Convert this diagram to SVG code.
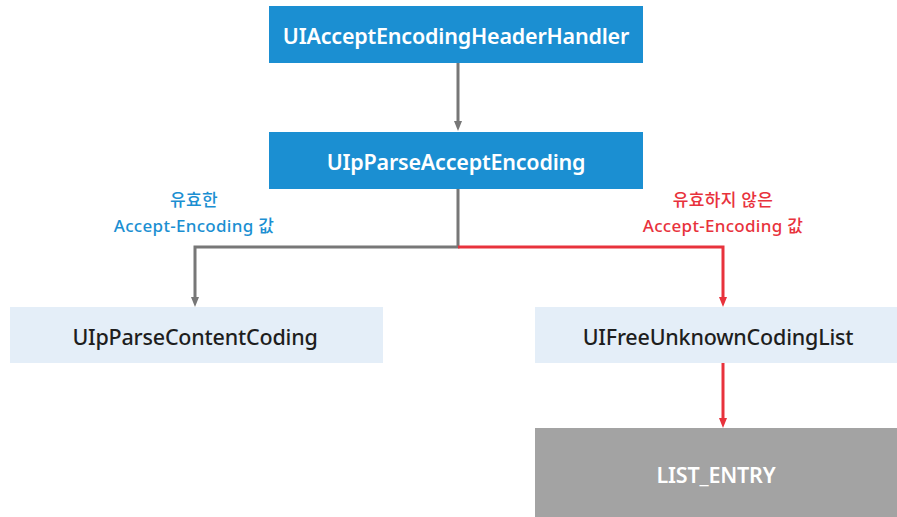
<svg xmlns="http://www.w3.org/2000/svg" width="897" height="517" viewBox="0 0 897 517">
<style>
.blue{fill:#1b8fd2}
.light{fill:#e4eef8}
.gray{fill:#a3a3a3}
.t{font-family:"Noto Sans","Noto Sans CJK KR",sans-serif;font-size:21.5px;text-anchor:middle;dominant-baseline:central;letter-spacing:-0.2px}
.w{fill:#ffffff;font-weight:600}
.d{fill:#1e1e1e;font-weight:500}
.lbl{font-family:"Noto Sans","Noto Sans CJK KR",sans-serif;font-size:17px;font-weight:500;text-anchor:middle;letter-spacing:0.3px}
.lb{fill:#1b8fd2}
.lr{fill:#e8323c}
.cg{stroke:#777777;stroke-width:3;fill:none}
.cr{stroke:#e8323c;stroke-width:3;fill:none}
</style>
<defs>
<marker id="ag" markerWidth="10" markerHeight="10" refX="5" refY="5" orient="auto" markerUnits="userSpaceOnUse"><path d="M0,1 L10,5 L0,9 Z" fill="#777777"/></marker>
<marker id="ar" markerWidth="10" markerHeight="10" refX="5" refY="5" orient="auto" markerUnits="userSpaceOnUse"><path d="M0,1 L10,5 L0,9 Z" fill="#e8323c"/></marker>
</defs>
<rect width="897" height="517" fill="#ffffff"/>
<g id="connectors">
<path class="cg" d="M458,63 V126" marker-end="url(#ag)"/>
<path class="cg" d="M458,189 V247 H195 V302" marker-end="url(#ag)"/>
<path class="cr" d="M458,247 H723 V302" marker-end="url(#ar)"/>
<path class="cr" d="M723,363 V423" marker-end="url(#ar)"/>
</g>
<g id="n1"><rect class="blue" x="269" y="6" width="374" height="57"/><text class="t w" x="456" y="35">UIAcceptEncodingHeaderHandler</text></g>
<g id="n2"><rect class="blue" x="269" y="132" width="374" height="57"/><text class="t w" x="456" y="161">UIpParseAcceptEncoding</text></g>
<g id="n3"><rect class="light" x="10" y="307" width="373" height="56"/><text class="t d" x="195" y="336">UIpParseContentCoding</text></g>
<g id="n4"><rect class="light" x="535" y="307" width="362" height="56"/><text class="t d" x="718" y="336">UIFreeUnknownCodingList</text></g>
<g id="n5"><rect class="gray" x="535" y="428" width="362" height="89"/><text class="t w" x="716" y="474">LIST_ENTRY</text></g>
<g id="labels">
<text class="lbl lb" x="194" y="206">유효한</text>
<text class="lbl lb" x="194" y="232">Accept-Encoding 값</text>
<text class="lbl lr" x="723" y="206">유효하지 않은</text>
<text class="lbl lr" x="723" y="232">Accept-Encoding 값</text>
</g>
</svg>
